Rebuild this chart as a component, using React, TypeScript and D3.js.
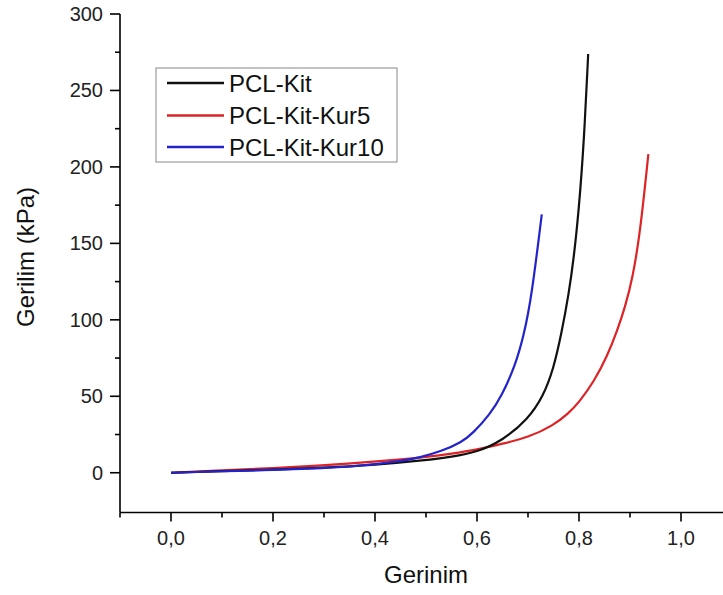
import React from "react";
import * as d3 from "d3";

const seriesNames = ["PCL-Kit", "PCL-Kit-Kur5", "PCL-Kit-Kur10"];
const seriesColors = ["#111111", "#dd2326", "#2323cc"];

const kitStrain = [0, 0.1, 0.2, 0.3, 0.4, 0.5, 0.55, 0.6, 0.65, 0.7, 0.73, 0.75, 0.765, 0.78, 0.79, 0.8, 0.81, 0.818];
const kitStress = [0, 1, 2, 3.2, 5.1, 8.2, 10.4, 13.5, 21, 35, 50, 68, 90, 117, 141, 173, 218, 273.8];

const kur5Strain = [0, 0.1, 0.2, 0.3, 0.37, 0.45, 0.5, 0.55, 0.6, 0.65, 0.7, 0.75, 0.78, 0.8, 0.83, 0.855, 0.875, 0.89, 0.905, 0.92, 0.936];
const kur5Stress = [0, 1.5, 3, 4.8, 6.5, 8.6, 10.3, 12.4, 15, 19, 23, 31, 39, 46, 60, 76, 93, 108, 127, 157, 208.4];

const kur10Strain = [0, 0.1, 0.2, 0.3, 0.37, 0.45, 0.488, 0.53, 0.57, 0.592, 0.625, 0.648, 0.675, 0.692, 0.707, 0.727];
const kur10Stress = [0, 1, 1.8, 3, 4.5, 7.5, 10, 14, 20, 25.8, 38, 50, 70, 90, 115, 169];

const yMajorTicks = [0, 50, 100, 150, 200, 250, 300];
const yMinorTicks = [25, 75, 125, 175, 225, 275];
const xMajorTicks = [0, 0.2, 0.4, 0.6, 0.8, 1.0];
const xMinorTicks = [-0.1, 0.1, 0.3, 0.5, 0.7, 0.9];

const xTitle = "Gerinim";
const yTitle = "Gerilim (kPa)";

export default function App() {
  const W = 723;
  const H = 595;
  const x = d3.scaleLinear().domain([-0.1, 1.1]).range([120, 732]);
  const y = d3.scaleLinear().domain([-26, 300]).range([512.5, 14]);
  const x0 = 120;
  const yb = 512.5;

  const series = [
    { xs: kitStrain, ys: kitStress },
    { xs: kur5Strain, ys: kur5Stress },
    { xs: kur10Strain, ys: kur10Stress },
  ];

  const line = d3
    .line<[number, number]>()
    .x((d) => x(d[0]))
    .y((d) => y(d[1]))
    .curve(d3.curveBasis);

  const fmt = (v: number) => v.toFixed(1).replace(".", ",");
  const font = "'Liberation Sans', Arial, sans-serif";

  const legendY = [83, 115.5, 147];

  return (
    <svg
      width={W}
      height={H}
      style={{ position: "absolute", left: 0, top: 0, background: "#fff" }}
      fontFamily={font}
    >
      <rect x={0} y={0} width={W} height={H} fill="#fff" />
      {[1, 0, 2].map((i) => (
        <path
          key={i}
          d={line(series[i].xs.map((v, k) => [v, series[i].ys[k]] as [number, number])) || ""}
          fill="none"
          stroke={seriesColors[i]}
          strokeWidth={2.2}
          strokeLinejoin="round"
        />
      ))}
      <line x1={x0} x2={x0} y1={y(300)} y2={yb} stroke="#000" strokeWidth={1.6} />
      {yMajorTicks.map((t) => (
        <g key={"ym" + t}>
          <line x1={x0 - 10} x2={x0} y1={y(t)} y2={y(t)} stroke="#000" strokeWidth={1.6} />
          <text
            x={103}
            y={y(t)}
            textAnchor="end"
            dominantBaseline="central"
            fontSize={20}
            fill="#222"
          >
            {t}
          </text>
        </g>
      ))}
      {yMinorTicks.map((t) => (
        <line key={"yn" + t} x1={x0 - 5} x2={x0} y1={y(t)} y2={y(t)} stroke="#000" strokeWidth={1.6} />
      ))}
      <line x1={x0} x2={W} y1={yb} y2={yb} stroke="#000" strokeWidth={1.6} />
      {xMajorTicks.map((t) => (
        <g key={"xm" + t}>
          <line x1={x(t)} x2={x(t)} y1={yb} y2={yb + 9} stroke="#000" strokeWidth={1.6} />
          <text x={x(t)} y={545} textAnchor="middle" fontSize={20} fill="#222">
            {fmt(t)}
          </text>
        </g>
      ))}
      {xMinorTicks.map((t) => (
        <line key={"xn" + t} x1={x(t)} x2={x(t)} y1={yb} y2={yb + 5} stroke="#000" strokeWidth={1.6} />
      ))}
      <text x={426} y={583} textAnchor="middle" fontSize={24} fill="#111">
        {xTitle}
      </text>
      <text
        transform={`translate(34,257) rotate(-90)`}
        textAnchor="middle"
        fontSize={24}
        fill="#111"
      >
        {yTitle}
      </text>
      <rect x={156} y={68} width={241} height={94} fill="#fff" stroke="#888" strokeWidth={1} />
      {seriesNames.map((n, i) => (
        <g key={n}>
          <line
            x1={167}
            x2={224}
            y1={legendY[i]}
            y2={legendY[i]}
            stroke={seriesColors[i]}
            strokeWidth={2.6}
          />
          <text x={229} y={legendY[i]} dominantBaseline="central" fontSize={24} fill="#111">
            {n}
          </text>
        </g>
      ))}
    </svg>
  );
}
